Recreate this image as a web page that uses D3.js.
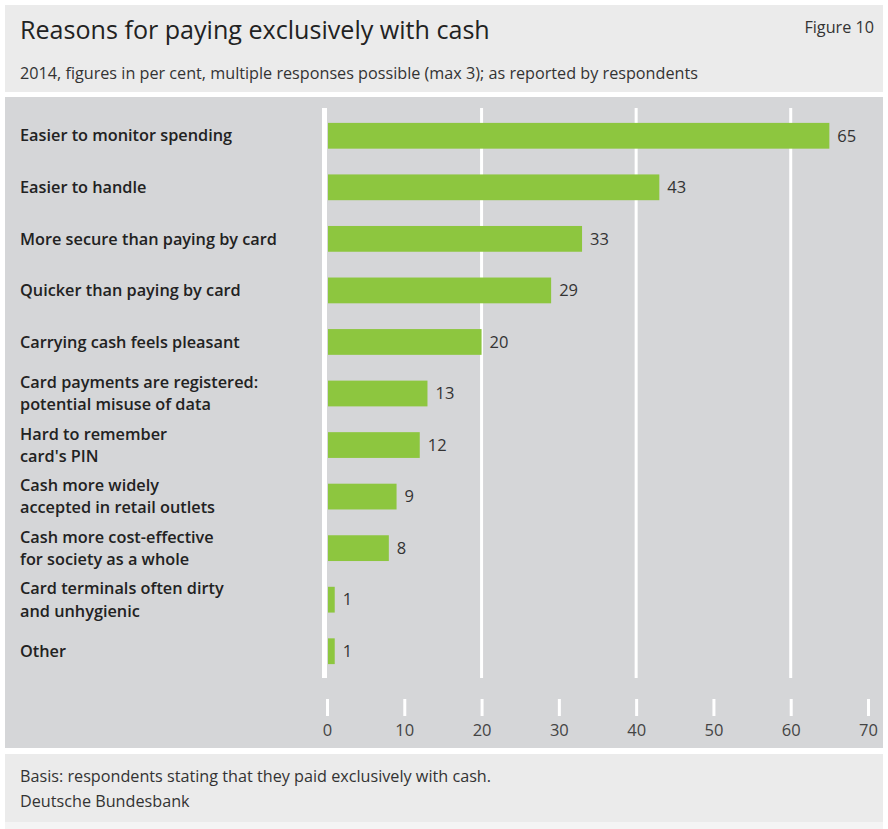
<!DOCTYPE html>
<html>
<head>
<meta charset="utf-8">
<script src="https://cdn.jsdelivr.net/npm/d3@7"></script>
<style>
  html, body { margin: 0; padding: 0; background: #ffffff; }
  svg { display: block; font-family: "Open Sans", "Noto Sans", sans-serif; }
</style>
</head>
<body>
<svg id="chart" width="888" height="829"></svg>
<script>
// Survey answers, 2014, per cent (multiple responses possible)
const categories = [
  ["Easier to monitor spending"],
  ["Easier to handle"],
  ["More secure than paying by card"],
  ["Quicker than paying by card"],
  ["Carrying cash feels pleasant"],
  ["Card payments are registered:", "potential misuse of data"],
  ["Hard to remember", "card's PIN"],
  ["Cash more widely", "accepted in retail outlets"],
  ["Cash more cost-effective", "for society as a whole"],
  ["Card terminals often dirty", "and unhygienic"],
  ["Other"]
];
const values = [65, 43, 33, 29, 20, 13, 12, 9, 8, 1, 1];
const tickValues = [0, 10, 20, 30, 40, 50, 60, 70];
const gridValues = [20, 40, 60];

const svg = d3.select("#chart");

// Panels
svg.append("rect").attr("x", 5).attr("y", 5).attr("width", 878).attr("height", 87).attr("fill", "#ebebeb");
svg.append("rect").attr("x", 5).attr("y", 97).attr("width", 878).attr("height", 651).attr("fill", "#d5d6d8");
svg.append("rect").attr("x", 5).attr("y", 754).attr("width", 878).attr("height", 68).attr("fill", "#ebebeb");
svg.append("rect").attr("x", 5).attr("y", 822).attr("width", 878).attr("height", 7).attr("fill", "#f4f4f4");

// Header
svg.append("text").attr("x", 20).attr("y", 39)
  .attr("font-size", 25.1).attr("fill", "#222").text("Reasons for paying exclusively with cash");
svg.append("text").attr("x", 874).attr("y", 33).attr("text-anchor", "end")
  .attr("font-size", 16.2).attr("fill", "#333").text("Figure 10");
svg.append("text").attr("x", 20).attr("y", 79)
  .attr("font-size", 16.2).attr("fill", "#333")
  .text("2014, figures in per cent, multiple responses possible (max 3); as reported by respondents");

// Scales
const x = d3.scaleLinear().domain([0, 70]).range([327, 868]);
const y = d3.scaleBand().domain(d3.range(categories.length))
  .range([110, 677]).paddingInner(0.5).paddingOuter(0.25);

const gTop = 108, gBottom = 678;

// Gridlines
svg.append("g").selectAll("rect").data(gridValues).join("rect")
  .attr("x", d => x(d) - 1.5).attr("width", 3)
  .attr("y", gTop).attr("height", gBottom - gTop).attr("fill", "#ffffff");

// Zero line
svg.append("rect").attr("x", x(0) - 5).attr("width", 5)
  .attr("y", gTop).attr("height", gBottom - gTop).attr("fill", "#ffffff");

// Bars
svg.append("g").selectAll("rect").data(values).join("rect")
  .attr("x", x(0) + 1).attr("y", (d, i) => y(i))
  .attr("width", d => x(d) - x(0) - 1).attr("height", y.bandwidth())
  .attr("fill", "#8dc63f");

// Value labels
svg.append("g").selectAll("text").data(values).join("text")
  .attr("x", d => x(d) + 8).attr("y", (d, i) => y(i) + y.bandwidth() / 2)
  .attr("dy", "0.35em").attr("font-size", 16.5).attr("fill", "#333")
  .text(d => d);

// Category labels: one text element per line
const labelSize = 16.3;
const lineGap = 22.3;
const labelRows = categories.flatMap((lines, i) =>
  lines.map((t, j) => ({ t, i, off: (j - (lines.length - 1) / 2) * lineGap })));
svg.append("g").selectAll("text").data(labelRows).join("text")
  .attr("x", 20)
  .attr("y", d => y(d.i) + y.bandwidth() / 2 + d.off)
  .attr("dy", "0.35em")
  .attr("font-size", labelSize).attr("font-weight", 600).attr("fill", "#222")
  .text(d => d.t);

// X axis
const axis = d3.axisBottom(x).tickValues(tickValues).tickSize(17).tickPadding(8);
const ax = svg.append("g").attr("transform", "translate(0,699)").call(axis);
ax.select(".domain").remove();
ax.selectAll(".tick line").attr("stroke", "#ffffff").attr("stroke-width", 3);
ax.selectAll(".tick text").attr("font-size", 16.5).attr("fill", "#444")
  .attr("font-family", "\"Open Sans\", sans-serif");

// Footer
svg.append("text").attr("x", 20).attr("y", 782).attr("font-size", 16.2).attr("fill", "#333")
  .text("Basis: respondents stating that they paid exclusively with cash.");
svg.append("text").attr("x", 20).attr("y", 807).attr("font-size", 16.2).attr("fill", "#333")
  .text("Deutsche Bundesbank");
</script>
</body>
</html>
